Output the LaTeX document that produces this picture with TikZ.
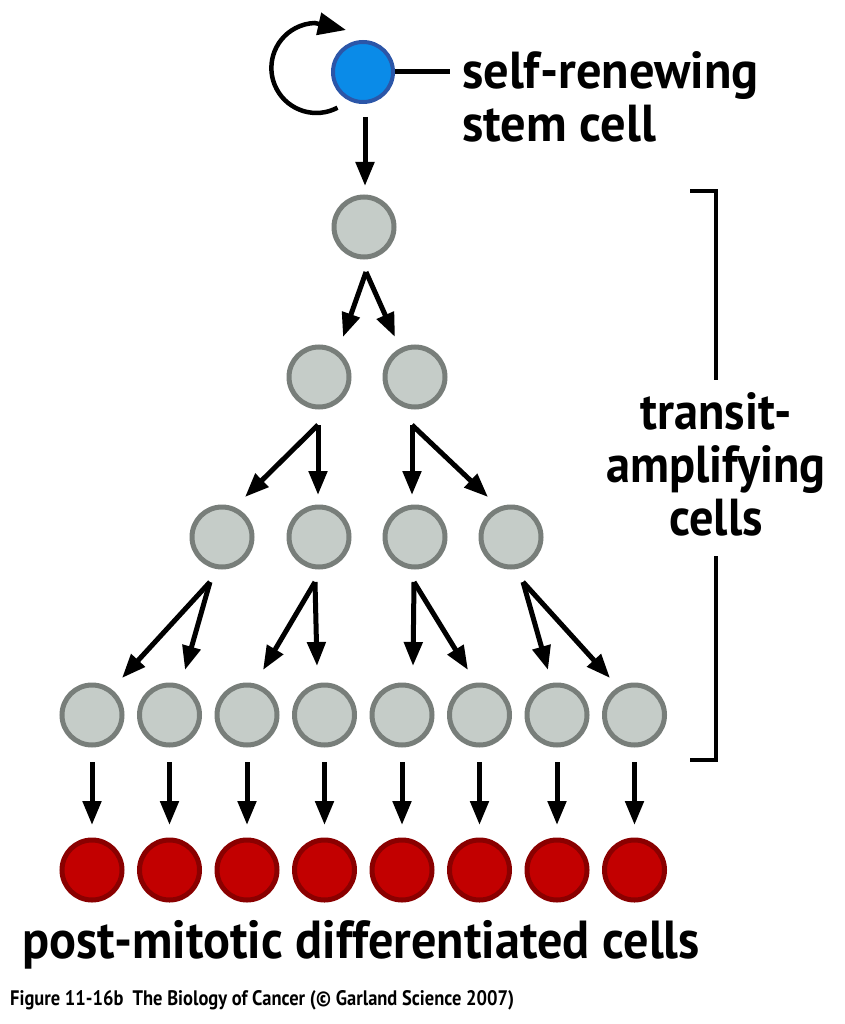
\documentclass[tikz,border=0pt]{standalone}
\usepackage{fontspec}
\usepackage{graphicx}
\setmainfont{PT Sans}
\usetikzlibrary{arrows.meta}
\definecolor{gfill}{HTML}{C5CCC8}
\definecolor{gline}{HTML}{787E7A}
\definecolor{bfill}{HTML}{0A8BE8}
\definecolor{bline}{HTML}{2B56A8}
\definecolor{rfill}{HTML}{C20000}
\definecolor{rline}{HTML}{8A0000}
\tikzset{
  cellg/.style={circle,draw=gline,fill=gfill,line width=5pt,minimum size=60pt,inner sep=0pt},
  cellr/.style={circle,draw=rline,fill=rfill,line width=5pt,minimum size=60pt,inner sep=0pt},
  cellb/.style={circle,draw=bline,fill=bfill,line width=4pt,minimum size=60pt,inner sep=0pt},
  arr/.style={line width=5pt,-{Triangle[length=24pt,width=18pt]}},
  lbl/.style={font=\fontsize{52}{53}\selectfont\bfseries,inner sep=0pt},
  brk/.style={line width=4.5pt}
}
\begin{document}
\begin{tikzpicture}[x=1pt,y=-1pt]
\useasboundingbox (0,0) rectangle (844,1024);
% stem cell
\node[cellb] (S) at (363,72) {};
\coordinate (Lb) at (337.5,107.7);
\coordinate (Lt) at (346,30);
\draw[line width=4.5pt,-{Triangle[length=28pt,width=22pt]}] (Lb) arc[start angle=62,end angle=268,radius=45] -- (Lt);
\coordinate (Sl) at (450,72);
\draw[line width=5pt] (S.east) -- (Sl);
\node[lbl,anchor=west,align=left] (Stxt) at (462,97) {\scalebox{0.97}[1]{self-renewing}\\\scalebox{0.97}[1]{stem cell}};
% cells
\node[cellg] (a1) at (364,227) {};
\node[cellg] (b1) at (319,377) {};
\node[cellg] (b2) at (415,377) {};
\node[cellg] (c1) at (222,537) {};
\node[cellg] (c2) at (319,537) {};
\node[cellg] (c3) at (415,537) {};
\node[cellg] (c4) at (511,537) {};
\foreach \i/\x in {1/92,2/169.5,3/247,4/324.5,5/402,6/479.5,7/557,8/634.5}{
  \node[cellg] (d\i) at (\x,715) {};
  \node[cellr] (e\i) at (\x,870) {};
  \coordinate (ds\i) at (\x,762);
  \coordinate (et\i) at (\x,825);
  \draw[arr] (ds\i) -- (et\i);
}
% arrows
\coordinate (Ss) at (365,117); \coordinate (at) at (365,186);
\draw[arr] (Ss) -- (at);
\coordinate (as) at (366,272);
\coordinate (bt1) at (343,337); \coordinate (bt2) at (395,337);
\draw[arr] (as) -- (bt1); \draw[arr] (as) -- (bt2);
\coordinate (bs1) at (318,425); \coordinate (bs2) at (412,425);
\coordinate (ct1) at (245,497); \coordinate (ct2) at (318,495);
\coordinate (ct3) at (412,495); \coordinate (ct4) at (488,497);
\draw[arr] (bs1) -- (ct1); \draw[arr] (bs1) -- (ct2);
\draw[arr] (bs2) -- (ct3); \draw[arr] (bs2) -- (ct4);
\coordinate (cs1) at (210,582); \coordinate (cs2) at (315,582);
\coordinate (cs3) at (414,582); \coordinate (cs4) at (523,582);
\coordinate (dt1) at (122,678); \coordinate (dt2) at (185,670);
\coordinate (dt3) at (263,670); \coordinate (dt4) at (317,666);
\coordinate (dt5) at (413,666); \coordinate (dt6) at (468,670);
\coordinate (dt7) at (548,670); \coordinate (dt8) at (610,678);
\draw[arr] (cs1) -- (dt1); \draw[arr] (cs1) -- (dt2);
\draw[arr] (cs2) -- (dt3); \draw[arr] (cs2) -- (dt4);
\draw[arr] (cs3) -- (dt5); \draw[arr] (cs3) -- (dt6);
\draw[arr] (cs4) -- (dt7); \draw[arr] (cs4) -- (dt8);
% bracket
\coordinate (k1) at (690,191); \coordinate (k2) at (716,191); \coordinate (k3) at (716,380);
\coordinate (k4) at (716,556); \coordinate (k5) at (716,760); \coordinate (k6) at (690,760);
\draw[brk] (k1) -- (k2) -- (k3);
\draw[brk] (k4) -- (k5) -- (k6);
\node[lbl,align=center] (T) at (716,464) {\scalebox{0.93}[1]{transit-}\\\scalebox{0.93}[1]{amplifying}\\\scalebox{0.93}[1]{cells}};
% bottom label
\node[lbl,anchor=west] (P) at (22,945) {\scalebox{0.965}[1.03]{post-mitotic differentiated cells}};
\node[font=\fontsize{21}{24}\selectfont\bfseries,anchor=west,inner sep=0pt] (F) at (10,1000) {\scalebox{0.88}[1]{Figure 11-16b\hspace{0.5em}The Biology of Cancer (© Garland Science 2007)}};
\end{tikzpicture}
\end{document}
